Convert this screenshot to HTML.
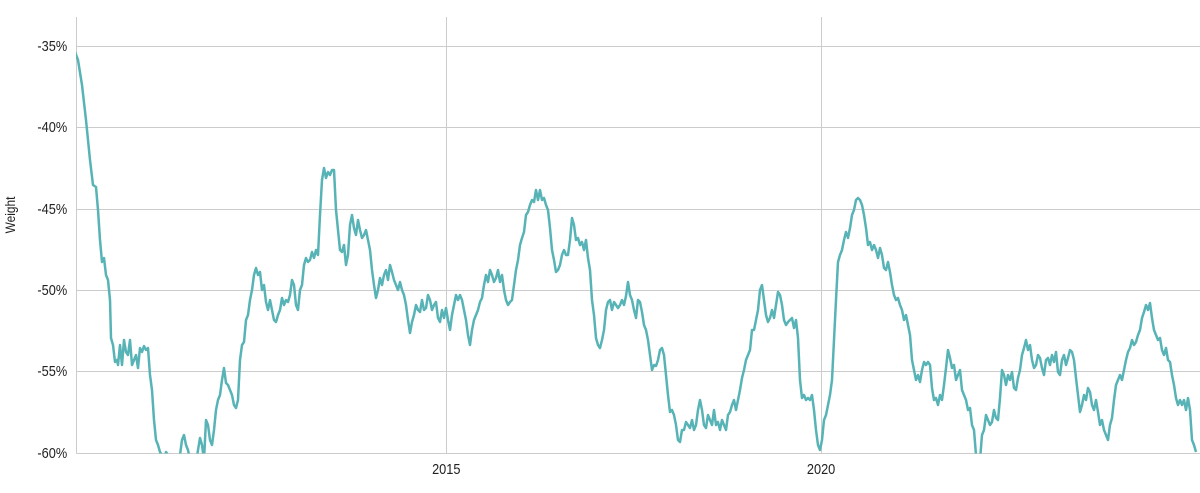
<!DOCTYPE html>
<html><head><style>
html,body{margin:0;padding:0;background:#fff;}
svg{display:block;}
text{font-family:"Liberation Sans",sans-serif;fill:#222;}
</style></head><body>
<svg width="1200" height="493" viewBox="0 0 1200 493">
<defs><clipPath id="c"><rect x="76" y="0" width="1124" height="453.5"/></clipPath></defs>
<g stroke="#cccccc" stroke-width="1">
<line x1="76.5" y1="46.5" x2="1200" y2="46.5"/>
<line x1="76.5" y1="127.5" x2="1200" y2="127.5"/>
<line x1="76.5" y1="209.5" x2="1200" y2="209.5"/>
<line x1="76.5" y1="290.5" x2="1200" y2="290.5"/>
<line x1="76.5" y1="371.5" x2="1200" y2="371.5"/>
<line x1="76.5" y1="453.5" x2="1200" y2="453.5"/>
<line x1="76.5" y1="17" x2="76.5" y2="453.5"/>
<line x1="446.5" y1="17" x2="446.5" y2="453.5"/>
<line x1="821.5" y1="17" x2="821.5" y2="453.5"/>
</g>
<g font-size="15" text-anchor="end" transform="scale(0.85,1)">
<text x="79" y="51">-35%</text>
<text x="79" y="132">-40%</text>
<text x="79" y="214">-45%</text>
<text x="79" y="295">-50%</text>
<text x="79" y="376">-55%</text>
<text x="79" y="458">-60%</text>
<text x="525" y="474" text-anchor="middle">2015</text>
<text x="966" y="474" text-anchor="middle">2020</text>
</g>
<text font-size="14" transform="translate(15,215) rotate(-90) scale(0.85,1)" text-anchor="middle">Weight</text>
<polyline clip-path="url(#c)" fill="none" stroke="#57b3b5" stroke-width="2.5" stroke-linejoin="round" points="75,52 78,60 82,85 86,120 90,160 93,185 96,187 98,210 100,240 102,262 104,258 106,275 108,280 110,300 111,338 113,345 115,362 117,360 118,365 120,345 122,365 124,340 126,352 128,355 130,340 132,365 134,360 136,355 138,368 140,348 142,352 144,346 146,350 148,348 150,375 152,390 154,420 156,440 158,445 160,452 162,455 164,460 166,452 168,455 170,460 175,465 180,455 182,440 184,435 186,445 188,450 190,460 195,470 198,450 200,438 202,445 204,460 206,420 208,425 210,440 212,445 214,430 216,410 218,400 220,395 222,380 224,368 226,383 228,385 230,390 232,395 234,405 236,408 238,400 240,360 242,345 244,342 246,320 248,315 250,300 252,290 254,275 256,268 258,275 260,272 262,290 264,285 266,302 268,310 270,300 272,310 274,320 276,322 278,315 280,310 282,298 284,305 286,300 288,302 290,295 292,280 294,285 296,305 298,310 300,290 302,285 304,265 306,258 308,262 310,260 312,252 314,258 316,250 318,255 320,215 322,180 324,168 326,178 328,172 330,175 332,170 334,170 336,210 338,230 340,250 342,252 344,245 346,265 348,255 350,225 352,215 354,228 356,235 358,220 360,230 362,238 364,235 366,230 368,240 370,250 372,270 374,285 376,298 378,290 380,278 382,285 384,275 386,270 388,280 390,265 392,272 394,280 396,285 398,290 400,282 402,290 404,295 406,305 408,320 410,333 412,322 414,315 416,305 418,310 420,312 422,300 424,310 426,308 428,295 430,300 432,310 434,305 436,302 438,318 440,322 442,310 444,318 446,308 448,320 450,330 452,315 454,305 456,295 458,300 460,295 462,300 464,310 466,320 468,335 470,345 472,330 474,320 476,315 478,310 480,302 482,298 484,285 486,275 488,282 490,270 492,275 494,282 496,278 498,270 500,282 502,275 504,290 506,300 508,305 510,302 512,300 514,285 516,270 518,260 520,245 522,238 524,232 526,215 528,212 530,205 532,200 534,202 536,190 538,200 540,190 542,200 544,198 546,205 548,210 550,228 552,250 554,260 556,272 558,270 560,265 562,255 564,250 566,255 568,255 570,240 572,218 574,225 576,240 578,238 580,245 582,242 584,250 586,240 588,258 590,270 592,300 594,315 596,338 598,345 600,348 602,340 604,330 606,310 608,302 610,300 612,310 614,302 616,305 618,308 620,305 622,300 624,305 626,296 628,282 630,295 632,300 634,310 636,318 638,300 640,302 642,312 644,325 646,330 648,340 650,355 652,370 654,365 656,366 658,360 660,350 662,348 664,355 666,375 668,395 670,412 672,410 674,415 676,425 678,440 680,442 682,430 684,430 686,422 688,425 690,428 692,420 694,430 696,425 698,410 700,400 702,410 704,425 706,428 708,415 710,420 712,425 714,410 716,425 718,422 720,430 722,420 724,425 726,430 728,415 730,412 732,405 734,400 736,410 738,400 740,390 742,378 744,370 746,360 748,355 750,350 752,330 754,330 756,320 758,310 760,290 762,285 764,300 766,315 768,322 770,318 772,310 774,318 776,305 778,292 780,295 782,305 784,320 786,325 788,322 790,320 792,318 794,328 796,320 798,338 800,380 802,398 804,395 806,400 808,398 810,400 812,395 814,410 816,430 818,445 820,450 822,440 824,420 826,415 828,405 830,395 832,380 834,340 836,300 838,262 840,255 842,250 844,240 846,232 848,238 850,228 852,215 854,210 856,200 858,198 860,200 862,205 864,215 866,228 868,245 870,242 872,250 874,245 876,250 878,258 880,248 882,255 884,268 886,270 888,262 890,272 892,285 894,295 896,300 898,298 900,305 902,310 904,320 906,315 908,325 910,335 912,360 914,370 916,380 918,375 920,382 922,370 924,362 926,365 928,362 930,365 932,388 934,400 936,398 938,405 940,395 942,400 944,385 946,368 948,350 950,358 952,368 954,365 956,380 958,375 960,370 962,390 964,395 966,400 968,410 970,408 972,425 974,430 976,455 978,470 980,460 982,435 984,430 986,415 988,420 990,425 992,422 994,410 996,418 998,420 1000,398 1002,370 1004,375 1006,385 1008,375 1010,380 1012,372 1014,388 1016,390 1018,378 1020,370 1022,355 1024,348 1026,340 1028,350 1030,345 1032,360 1034,368 1036,365 1038,355 1040,358 1042,368 1044,375 1046,360 1048,358 1050,365 1052,355 1054,362 1056,352 1058,372 1060,375 1062,360 1064,355 1066,365 1068,358 1070,350 1072,352 1074,360 1076,378 1078,395 1080,412 1082,405 1084,395 1086,400 1088,388 1090,392 1092,405 1094,410 1096,400 1098,412 1100,425 1102,420 1104,430 1106,435 1108,440 1110,425 1112,418 1114,400 1116,385 1118,380 1120,375 1122,380 1124,370 1126,360 1128,352 1130,348 1132,340 1134,345 1136,342 1138,335 1140,330 1142,318 1144,312 1146,305 1148,310 1150,303 1152,318 1154,330 1156,335 1158,340 1160,338 1162,350 1164,355 1166,348 1168,360 1170,362 1172,375 1174,385 1176,398 1178,405 1180,400 1182,405 1184,400 1186,410 1188,398 1190,410 1192,440 1194,445 1196,452"/>
</svg>
</body></html>
